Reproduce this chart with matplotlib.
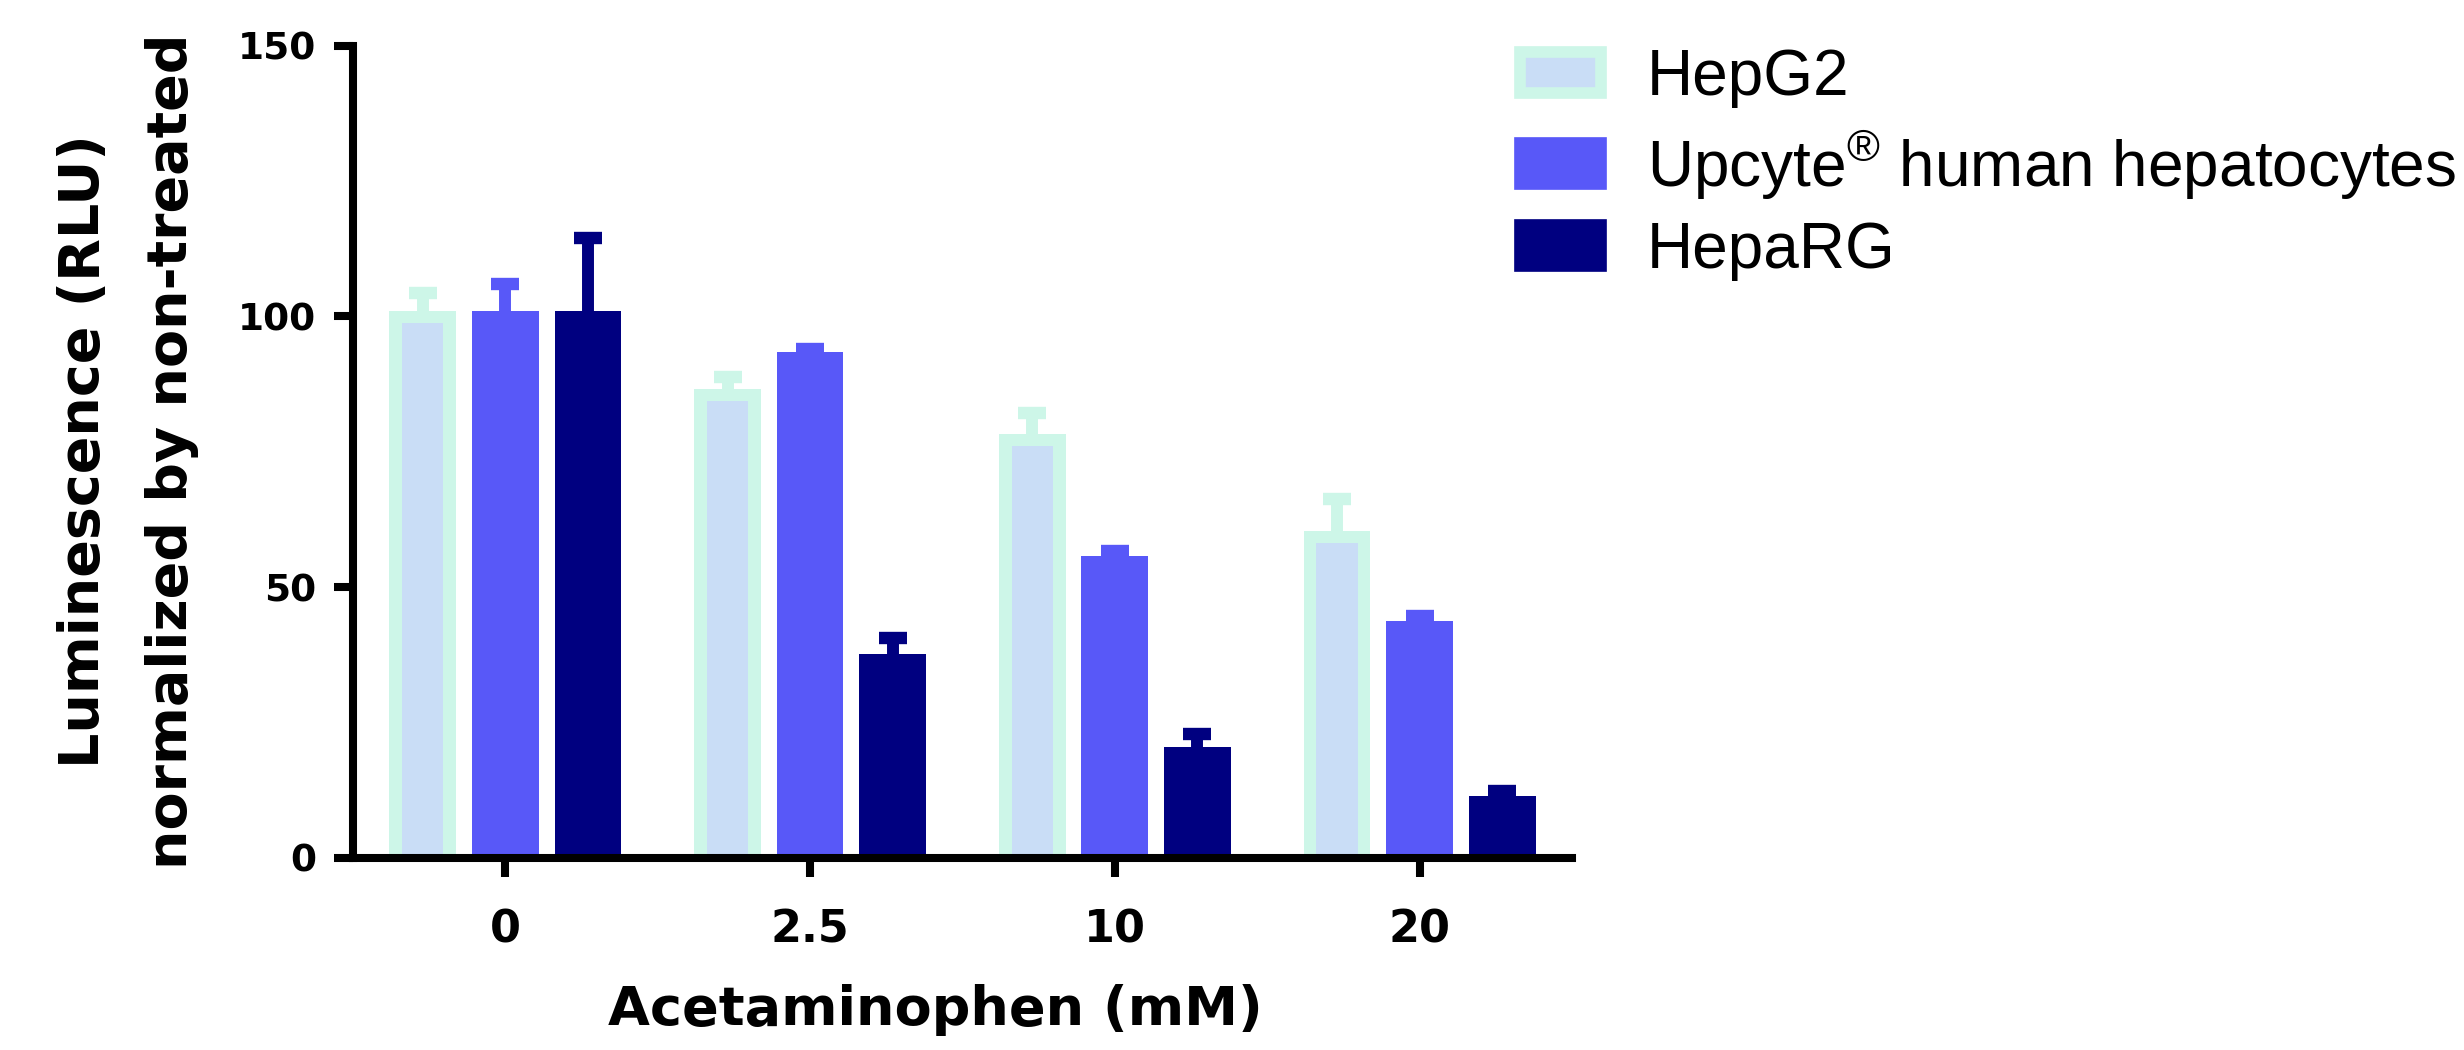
import matplotlib
matplotlib.use('Agg')
import matplotlib.pyplot as plt
from matplotlib.patches import Patch
import numpy as np

plt.rcParams['mathtext.fontset'] = 'custom'
plt.rcParams['mathtext.rm'] = 'Liberation Sans'

# values (luminescence, % of non-treated)
doses = ['0', '2.5', '10', '20']
series = ['HepG2', 'Upcyte$^{\\mathrm{®}}$ human hepatocytes', 'HepaRG']
hepg2 = [101, 86.5, 78.3, 60.4]
hepg2_err = [3.4, 2.3, 3.9, 5.9]
upcyte = [101, 93.5, 55.8, 43.7]
upcyte_err = [5.0, 0.5, 0.8, 1.0]
heparg = [101, 37.6, 20.5, 11.5]
heparg_err = [13.4, 3.1, 2.3, 0.9]
yticks = [0, 50, 100, 150]

mint = '#cdf6e8'
pale = '#c9ddf6'
blue = '#5858f8'
navy = '#000080'

fig = plt.figure(figsize=(24.64, 10.5), dpi=100)
ax = fig.add_axes([0.14326, 0.18286, 0.4947, 0.7738])

x = np.arange(len(doses))
w = 0.219
step = 0.271
# HepG2 bars: mint frame with pale blue fill
ax.bar(x - step, hepg2, w, color=mint, linewidth=0)
ax.bar(x - step, np.array(hepg2) - 2.16, w - 2 * 0.0415, color=pale, linewidth=0)
ax.bar(x, upcyte, w, color=blue, linewidth=0)
ax.bar(x + step, heparg, w, color=navy, linewidth=0)

# upward-only error bars with thick caps
for pos, vals, errs, col in [(x - step, hepg2, hepg2_err, mint),
                             (x, upcyte, upcyte_err, blue),
                             (x + step, heparg, heparg_err, navy)]:
    vals = np.array(vals)
    tops = vals + np.array(errs)
    ax.vlines(pos, vals, tops, color=col, lw=8.6)
    ax.plot(pos, tops, ls='none', marker='_', ms=19.8, mew=8.9, color=col)

ax.set_xlim(-0.5, 3.5)
ax.set_ylim(0, 150)
for s in ['top', 'right']:
    ax.spines[s].set_visible(False)
for s in ['left', 'bottom']:
    ax.spines[s].set_linewidth(5.8)
ax.spines['left'].set_bounds(0, 150)

ax.set_yticks(yticks, labels=[str(v) for v in yticks],
              fontfamily='DejaVu Sans', fontweight='bold', fontsize=27)
ax.set_xticks(x, labels=doses, fontfamily='DejaVu Sans', fontweight='bold', fontsize=32)
ax.tick_params(axis='both', length=13.7, width=5.8, direction='out')
ax.tick_params(axis='y', pad=13)
ax.tick_params(axis='x', pad=23)

fig.text(128 / 2464, 0.5705, 'Luminescence (RLU)\nnormalized by non-treated',
         rotation=90, ha='center', va='center', multialignment='center',
         fontfamily='DejaVu Sans', fontweight='bold', fontsize=40, linespacing=1.8)
fig.text(935 / 2464, 1 - 1025 / 1050, 'Acetaminophen (mM)', ha='center', va='baseline',
         fontfamily='DejaVu Sans', fontweight='bold', fontsize=39)

handles = [Patch(facecolor=pale, edgecolor=mint, linewidth=8.4),
           Patch(facecolor=blue, edgecolor=blue, linewidth=8.4),
           Patch(facecolor=navy, edgecolor=navy, linewidth=8.4)]
fig.legend(handles, series, loc='upper left', bbox_to_anchor=(0.6168, 0.9543),
           frameon=False, prop={'family': 'Liberation Sans', 'size': 46},
           handlelength=1.266, handleheight=0.61, handletextpad=0.72,
           labelspacing=0.31, borderpad=0, borderaxespad=0)

fig.savefig('out.png', dpi=100)
